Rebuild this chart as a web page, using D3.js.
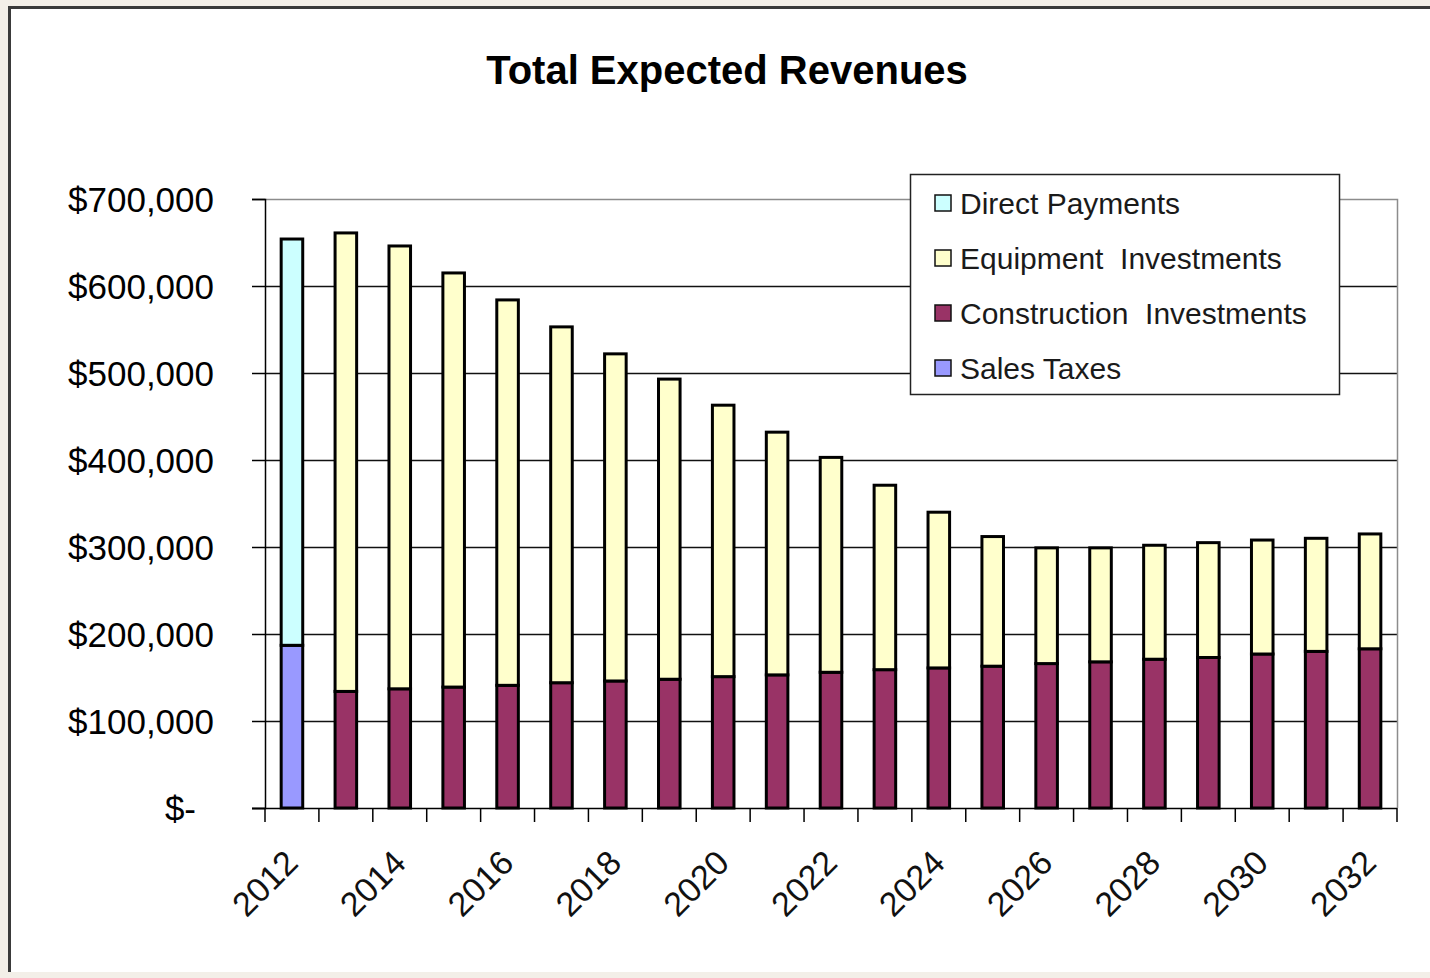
<!DOCTYPE html>
<html>
<head>
<meta charset="utf-8">
<script src="https://cdn.jsdelivr.net/npm/d3@7"></script>
<style>
  body { margin: 0; background: #f3efe8; }
  svg { display: block; }
</style>
</head>
<body>
<div id="chart"></div>
<script>
var years = ["2012","2013","2014","2015","2016","2017","2018","2019","2020","2021","2022",
             "2023","2024","2025","2026","2027","2028","2029","2030","2031","2032"];
var salesTaxes   = [187000,0,0,0,0,0,0,0,0,0,0,0,0,0,0,0,0,0,0,0,0];
var construction = [0,134000,137000,139000,141000,144000,146000,148000,151000,153000,156000,
                    159000,161000,163000,166000,168000,171000,173000,177000,180000,183000];
var equipment    = [0,527000,509000,476000,443000,409000,376000,345000,312000,279000,247000,
                    212000,179000,149000,133000,131000,131000,132000,131000,130000,132000];
var directPayments = [467000,0,0,0,0,0,0,0,0,0,0,0,0,0,0,0,0,0,0,0,0];
var yTicks = [0,100000,200000,300000,400000,500000,600000,700000];
var xLabels = ["2012","2014","2016","2018","2020","2022","2024","2026","2028","2030","2032"];

var series = [
    {name: "Sales Taxes", values: salesTaxes, color: "#9999ff"},
    {name: "Construction  Investments", values: construction, color: "#993366"},
    {name: "Equipment  Investments", values: equipment, color: "#ffffcc"},
    {name: "Direct Payments", values: directPayments, color: "#ccffff"}
];

var width = 1430, height = 978;
var plotLeft = 265, plotRight = 1397, plotTop = 199, plotBottom = 808;

var svg = d3.select("#chart").append("svg")
    .attr("width", width)
    .attr("height", height);

// chart frame
svg.append("rect")
    .attr("x", 9).attr("y", 7)
    .attr("width", width).attr("height", 965)
    .attr("fill", "#fff");
svg.append("path")
    .attr("d", "M9.5,972V7.5H1430")
    .attr("fill", "none")
    .attr("stroke", "#3a3a3a")
    .attr("stroke-width", 3);

svg.append("text")
    .attr("x", 727).attr("y", 84)
    .attr("text-anchor", "middle")
    .style("font-family", "Liberation Sans, Arial, sans-serif")
    .style("font-weight", "bold")
    .style("font-size", "40px")
    .attr("fill", "#000")
    .text("Total Expected Revenues");

var x = d3.scaleBand()
    .domain(years)
    .range([plotLeft, plotRight])
    .paddingInner(0.6)
    .paddingOuter(0.3);

var y = d3.scaleLinear()
    .domain([0, 700000])
    .range([plotBottom, plotTop]);

// gridlines
svg.append("g").selectAll("line")
    .data(yTicks.filter(function(d){ return d > 0 && d < 700000; }))
    .enter().append("line")
    .attr("x1", plotLeft).attr("x2", plotRight)
    .attr("y1", function(d){ return Math.round(y(d)) + 0.5; })
    .attr("y2", function(d){ return Math.round(y(d)) + 0.5; })
    .attr("stroke", "#111")
    .attr("stroke-width", 1.5);

// plot area border (top + right)
svg.append("path")
    .attr("d", "M" + plotLeft + "," + (plotTop + 0.5) + "H" + (plotRight + 0.5) + "V" + plotBottom)
    .attr("fill", "none")
    .attr("stroke", "#8c8c8c")
    .attr("stroke-width", 1.5);

// stacked bars
var stackData = years.map(function(yr, i){
    var o = {year: yr};
    series.forEach(function(s){ o[s.name] = s.values[i]; });
    return o;
});
var stacked = d3.stack().keys(series.map(function(s){ return s.name; }))(stackData);

svg.append("g").selectAll("g")
    .data(stacked)
    .enter().append("g")
    .attr("fill", function(d, i){ return series[i].color; })
    .selectAll("rect")
    .data(function(d){ return d.filter(function(p){ return p[1] - p[0] > 0; }); })
    .enter().append("rect")
    .attr("x", function(d){ return x(d.data.year); })
    .attr("width", x.bandwidth())
    .attr("y", function(d){ return y(d[1]); })
    .attr("height", function(d){ return y(d[0]) - y(d[1]); })
    .attr("stroke", "#000")
    .attr("stroke-width", 3);

// y axis
var yAxis = d3.axisLeft(y)
    .tickValues(yTicks)
    .tickSize(13)
    .tickFormat(function(d){ return d === 0 ? "$-" : "$" + d3.format(",")(d); });

var gy = svg.append("g")
    .attr("transform", "translate(" + plotLeft + ",0)")
    .call(yAxis);
gy.select(".domain").attr("stroke", "#000").attr("stroke-width", 1.5);
gy.selectAll(".tick line").attr("stroke", "#000").attr("stroke-width", 1.5);
gy.selectAll(".tick text")
    .attr("x", function(d){ return d === 0 ? -69 : -51; })
    .attr("dy", "0.36em")
    .attr("fill", "#000")
    .style("font-family", "Liberation Sans, Arial, sans-serif")
    .style("font-size", "35px");

// x axis
var gx = svg.append("g")
    .attr("transform", "translate(0," + plotBottom + ")");
gx.append("line")
    .attr("x1", plotLeft - 13).attr("x2", plotRight)
    .attr("y1", 0.5).attr("y2", 0.5)
    .attr("stroke", "#000").attr("stroke-width", 1.5);
var step = x.step();
gx.selectAll(".xtick")
    .data(d3.range(years.length + 1))
    .enter().append("line")
    .attr("class", "xtick")
    .attr("x1", function(i){ return plotLeft + i * step; })
    .attr("x2", function(i){ return plotLeft + i * step; })
    .attr("y1", 0).attr("y2", 14)
    .attr("stroke", "#000").attr("stroke-width", 1.5);
gx.selectAll(".xlabel")
    .data(xLabels)
    .enter().append("text")
    .attr("class", "xlabel")
    .attr("text-anchor", "end")
    .attr("transform", function(d){
        return "translate(" + (x(d) + x.bandwidth() / 2 + 8) + ",57) rotate(-45)";
    })
    .attr("fill", "#111")
    .style("font-family", "Liberation Sans, Arial, sans-serif")
    .style("font-size", "34px")
    .text(function(d){ return d; });

// legend
var legend = svg.append("g");
legend.append("rect")
    .attr("x", 910.5).attr("y", 174.5)
    .attr("width", 429).attr("height", 220)
    .attr("fill", "#fff")
    .attr("stroke", "#222")
    .attr("stroke-width", 1.5);
var legendItems = series.slice().reverse();
var li = legend.selectAll(".item")
    .data(legendItems)
    .enter().append("g")
    .attr("class", "item")
    .attr("transform", function(d, i){ return "translate(0," + (203 + i * 55) + ")"; });
li.append("rect")
    .attr("x", 935).attr("y", -8)
    .attr("width", 16).attr("height", 16)
    .attr("fill", function(d){ return d.color; })
    .attr("stroke", "#111")
    .attr("stroke-width", 1.5);
li.append("text")
    .attr("x", 960)
    .attr("dy", "0.36em")
    .attr("fill", "#1a1a1a")
    .style("font-family", "Liberation Sans, Arial, sans-serif")
    .style("font-size", "30px")
    .style("white-space", "pre")
    .text(function(d){ return d.name; });
</script>
</body>
</html>
